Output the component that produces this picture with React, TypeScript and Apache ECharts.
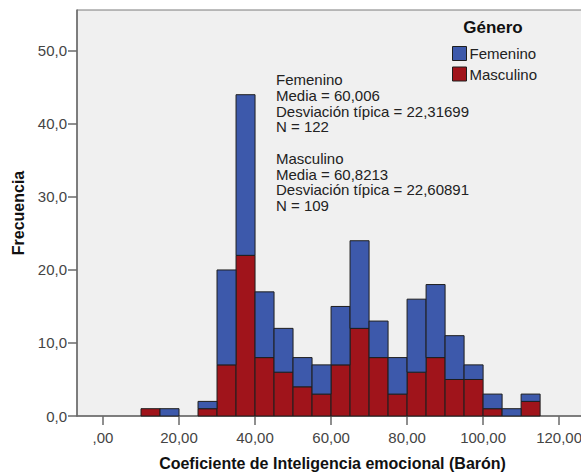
import React, { useEffect, useRef } from "react";
import * as echarts from "echarts";

// Histogram bins (width 5) and counts per gender
const binStarts = [10, 15, 20, 25, 30, 35, 40, 45, 50, 55, 60, 65, 70, 75, 80, 85, 90, 95, 100, 105, 110];
const binWidth = 5;
const masculino = [1, 0, 0, 1, 7, 22, 8, 6, 4, 3, 7, 12, 8, 3, 6, 8, 5, 5, 1, 0, 2];
const femenino = [0, 1, 0, 1, 13, 22, 9, 6, 4, 4, 8, 12, 5, 5, 10, 10, 6, 2, 2, 1, 1];

const xTicks = [0, 20, 40, 60, 80, 100, 120];
const yTicks = [0, 10, 20, 30, 40, 50];

const groupNames = ["Femenino", "Masculino"];
const groupMeans = ["60,006", "60,8213"];
const groupSDs = ["22,31699", "22,60891"];
const groupNs = [122, 109];

const legendTitle = "Género";
const xTitle = "Coeficiente de Inteligencia emocional (Barón)";
const yTitle = "Frecuencia";

const BLUE = "#3d59ab";
const RED = "#a0141b";
const FONT = 'Arial, "Liberation Sans", sans-serif';

export default function App() {
  const ref = useRef<HTMLDivElement>(null);

  useEffect(() => {
    if (!ref.current) return;
    const chart = echarts.init(ref.current, undefined, { renderer: "svg" });

    const mascData: number[][] = [];
    const femData: number[][] = [];
    binStarts.forEach((s, i) => {
      if (masculino[i] > 0) mascData.push([s, s + binWidth, 0, masculino[i]]);
      if (femenino[i] > 0) femData.push([s, s + binWidth, masculino[i], masculino[i] + femenino[i]]);
    });

    const makeRender = (color: string) => (params: any, api: any) => {
      const p0 = api.coord([api.value(0), api.value(2)]);
      const p1 = api.coord([api.value(1), api.value(3)]);
      return {
        type: "rect",
        shape: { x: p0[0], y: p1[1], width: p1[0] - p0[0], height: p0[1] - p1[1] },
        style: { fill: color, stroke: "#1e1e1e", lineWidth: 1 },
      };
    };

    const statLines: string[] = [];
    groupNames.forEach((g, i) => {
      if (i > 0) statLines.push("");
      statLines.push(g);
      statLines.push("Media = " + groupMeans[i]);
      statLines.push("Desviación típica = " + groupSDs[i]);
      statLines.push("N = " + groupNs[i]);
    });

    const axisColor = "#6a6a6a";
    const labelColor = "#444";

    chart.setOption({
      animation: false,
      backgroundColor: "#ffffff",
      grid: {
        left: 77,
        top: 10,
        right: 12,
        bottom: 58,
        show: true,
        backgroundColor: "#f0f0f0",
        borderColor: "#7a7a7a",
        borderWidth: 1,
      },
      xAxis: {
        type: "value",
        min: -6.84,
        max: 127.6,
        name: xTitle,
        nameLocation: "middle",
        nameGap: 39,
        nameTextStyle: { fontFamily: FONT, fontSize: 16, fontWeight: "bold", color: "#111" },
        axisLine: { show: true, onZero: false, lineStyle: { color: axisColor, width: 1.5 } },
        axisTick: { show: true, length: 9, customValues: xTicks, lineStyle: { color: axisColor, width: 1.5 } },
        axisLabel: {
          customValues: xTicks,
          margin: 14,
          fontFamily: FONT,
          fontSize: 15,
          color: labelColor,
          formatter: (v: number) => (v === 0 ? ",00" : v.toFixed(2).replace(".", ",")),
        },
        splitLine: { show: false },
      },
      yAxis: {
        type: "value",
        min: 0,
        max: 55.6,
        name: yTitle,
        nameLocation: "middle",
        nameGap: 51,
        nameTextStyle: { fontFamily: FONT, fontSize: 16, fontWeight: "bold", color: "#111" },
        axisLine: { show: true, onZero: false, lineStyle: { color: axisColor, width: 1.5 } },
        axisTick: { show: true, length: 9, customValues: yTicks, lineStyle: { color: axisColor, width: 1.5 } },
        axisLabel: {
          customValues: yTicks,
          margin: 10,
          fontFamily: FONT,
          fontSize: 15,
          color: labelColor,
          formatter: (v: number) => v.toFixed(1).replace(".", ","),
        },
        splitLine: { show: false },
      },
      legend: {
        orient: "vertical",
        left: 452,
        top: 46,
        padding: 0,
        itemWidth: 14,
        itemHeight: 14,
        itemGap: 5.5,
        selectedMode: false,
        textStyle: { fontFamily: FONT, fontSize: 15, color: "#222", lineHeight: 14, padding: [0, 0, 0, -2] },
        data: [
          { name: "Femenino", icon: "rect", itemStyle: { color: BLUE, borderColor: "#1e1e1e", borderWidth: 1 } },
          { name: "Masculino", icon: "rect", itemStyle: { color: RED, borderColor: "#1e1e1e", borderWidth: 1 } },
        ],
      },
      graphic: [
        {
          type: "text",
          x: 493,
          y: 27,
          style: {
            text: legendTitle,
            fontFamily: FONT,
            fontSize: 17,
            fontWeight: "bold",
            fill: "#111",
            align: "center",
            verticalAlign: "middle",
          },
        },
        {
          type: "text",
          x: 276,
          y: 72,
          style: {
            text: statLines.join("\n"),
            fontFamily: FONT,
            fontSize: 15,
            lineHeight: 15.7,
            fill: "#222",
            align: "left",
            verticalAlign: "top",
          },
        },
      ],
      series: [
        {
          name: "Masculino",
          type: "custom",
          renderItem: makeRender(RED),
          itemStyle: { color: RED },
          encode: { x: [0, 1], y: [2, 3] },
          data: mascData,
        },
        {
          name: "Femenino",
          type: "custom",
          renderItem: makeRender(BLUE),
          itemStyle: { color: BLUE },
          encode: { x: [0, 1], y: [2, 3] },
          data: femData,
        },
      ],
    });

    return () => chart.dispose();
  }, []);

  return (
    <div
      ref={ref}
      style={{ position: "fixed", left: 0, top: 0, width: 600, height: 476, background: "#fff" }}
    />
  );
}
